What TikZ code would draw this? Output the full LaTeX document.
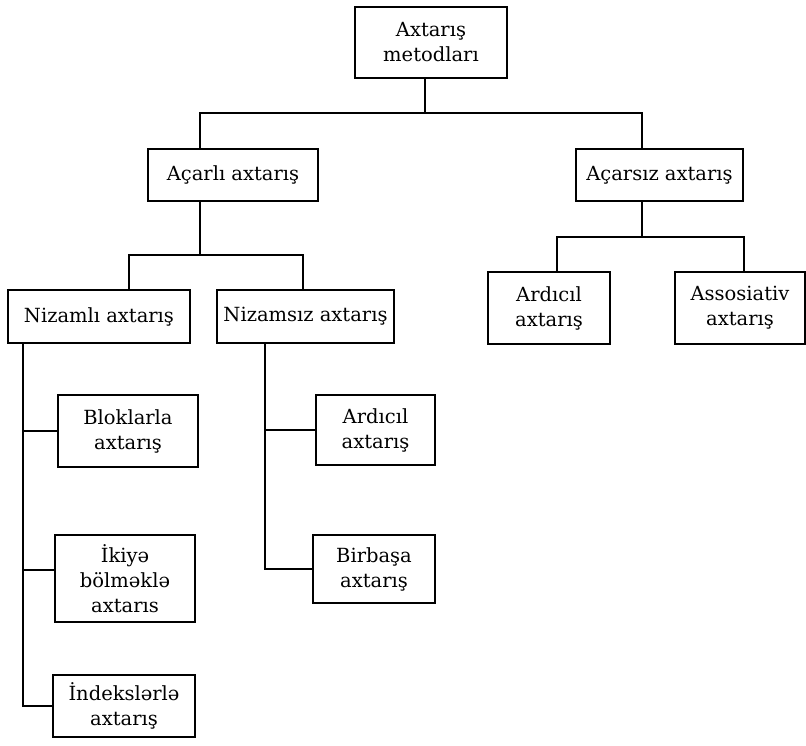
\documentclass[tikz,border=0pt]{standalone}
\usepackage{fontspec}
\setmainfont{DejaVu Serif}
\begin{document}
\begin{tikzpicture}[x=1pt,y=1pt,
  box/.style={draw,line width=1.3pt,rectangle,inner sep=0pt,align=center,
    font=\fontsize{19.5}{25}\selectfont},
  link/.style={line width=1.3pt}]
\useasboundingbox (0,0) rectangle (806,-746);
% boxes
\node[box,minimum width=152,minimum height=71] (top) at (431,-42.5) {Axtarış\\metodları};
\node[box,minimum width=170,minimum height=52] (acarli) at (233,-175) {Açarlı axtarış};
\node[box,minimum width=167,minimum height=52] (acarsiz) at (659.5,-175) {Açarsız axtarış};
\node[box,minimum width=182,minimum height=53] (nizamli) at (99,-316.5) {Nizamlı axtarış};
\node[box,minimum width=177,minimum height=53] (nizamsiz) at (305.5,-316.5) {Nizamsız axtarış};
\node[box,minimum width=122,minimum height=72] (ardicilA) at (549,-308) {Ardıcıl\\axtarış};
\node[box,minimum width=130,minimum height=72] (assos) at (740,-308) {Assosiativ\\axtarış};
\node[box,minimum width=140,minimum height=72] (bloklar) at (128,-431) {Bloklarla\\axtarış};
\node[box,minimum width=140,minimum height=87] (ikiye) at (125,-578.5) {İkiyə\\bölməklə\\axtarıs};
\node[box,minimum width=142,minimum height=62] (indeks) at (124,-706) {İndekslərlə\\axtarış};
\node[box,minimum width=119,minimum height=70] (ardicilB) at (375.5,-430) {Ardıcıl\\axtarış};
\node[box,minimum width=122,minimum height=68] (birbasa) at (374,-569) {Birbaşa\\axtarış};
% bus coordinates
\coordinate (t0) at (425,-113);
\coordinate (b1L) at (200,-113);
\coordinate (b1R) at (642,-113);
\coordinate (b2) at (200,-255);
\coordinate (b2L) at (129,-255);
\coordinate (b2R) at (303,-255);
\coordinate (b3) at (642,-237);
\coordinate (b3L) at (557,-237);
\coordinate (b3R) at (744,-237);
\coordinate (l0) at (23,0);
\coordinate (k2) at (23,-570);
\coordinate (m0) at (265,0);
% connectors
\draw[link] (t0 |- top.south) -- (t0);
\draw[link] (acarli.north -| b1L) -- (b1L) -- (b1R) -- (acarsiz.north -| b1R);
\draw[link] (acarli.south -| b2) -- (b2);
\draw[link] (nizamli.north -| b2L) -- (b2L) -- (b2R) -- (nizamsiz.north -| b2R);
\draw[link] (acarsiz.south -| b3) -- (b3);
\draw[link] (ardicilA.north -| b3L) -- (b3L) -- (b3R) -- (assos.north -| b3R);
\draw[link] (nizamli.south -| l0) |- (indeks.west);
\draw[link] (bloklar.west) -- (bloklar.west -| l0);
\draw[link] (k2) -- (k2 -| ikiye.west);
\draw[link] (nizamsiz.south -| m0) |- (birbasa.west);
\draw[link] (ardicilB.west) -- (ardicilB.west -| m0);
\end{tikzpicture}
\end{document}
